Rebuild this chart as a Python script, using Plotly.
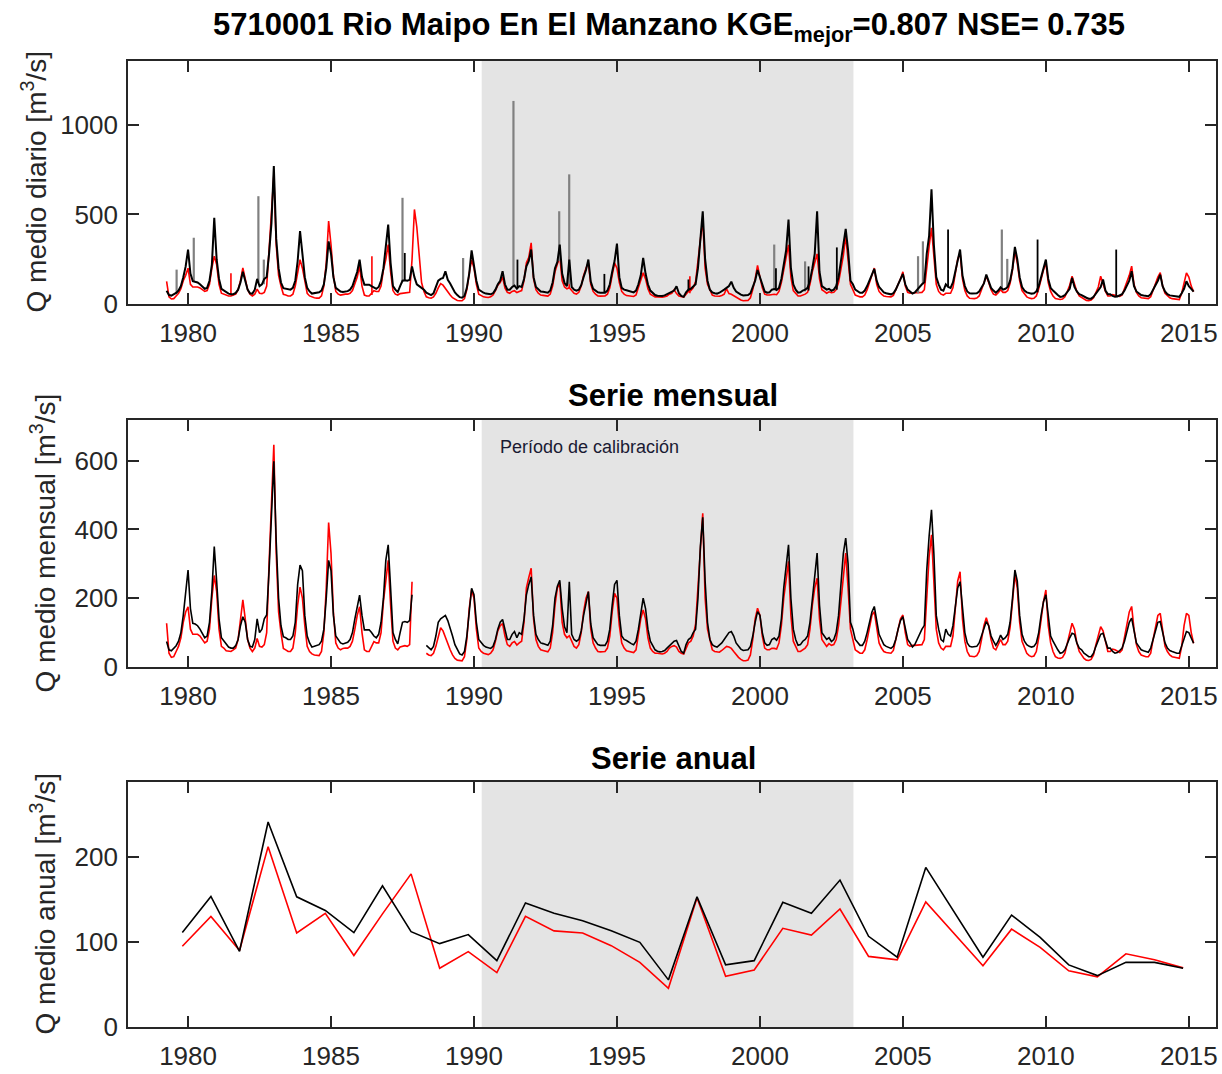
import numpy as np
import plotly.graph_objects as go

# ---------------------------------------------------------------
# Data: Rio Maipo en El Manzano (5710001), observed vs simulated
# Monthly values per hydrological year (April -> March)
# ---------------------------------------------------------------
anios_hidro = list(range(1979, 2015))
meses = ['Abr', 'May', 'Jun', 'Jul', 'Ago', 'Sep', 'Oct', 'Nov', 'Dic', 'Ene', 'Feb', 'Mar']

q_obs_mensual = [
    # Abr May Jun Jul Ago Sep Oct Nov Dic Ene Feb Mar
    74, 50, 47, 55, 62, 75, 100, 150, 210, 282, 170, 127,      # 1979
    125, 120, 110, 95, 85, 90, 130, 220, 350, 250, 140, 85,    # 1980
    75, 65, 58, 55, 55, 62, 80, 120, 146, 130, 80, 60,         # 1981
    58, 80, 140, 100, 110, 140, 151, 280, 450, 598, 365, 200,  # 1982
    120, 88, 85, 80, 80, 90, 130, 240, 296, 280, 150, 90,      # 1983
    70, 58, 60, 62, 65, 75, 110, 200, 310, 280, 150, 90,       # 1984
    80, 70, 67, 70, 72, 80, 100, 140, 180, 209, 150, 108,      # 1985
    108, 108, 100, 90, 85, 95, 130, 200, 310, 355, 230, 100,   # 1986
    80, 67, 100, 130, 132, 130, 135, 210, 150, 110, 100, 90,   # 1987
    80, 63, 55, 50, 60, 90, 130, 140, 145, 150, 135, 115,      # 1988
    90, 65, 50, 38, 35, 45, 90, 170, 229, 210, 130, 80,        # 1989
    70, 63, 58, 55, 54, 60, 80, 110, 130, 138, 110, 80,        # 1990
    80, 95, 103, 85, 100, 95, 140, 210, 240, 262, 150, 95,     # 1991
    80, 70, 68, 65, 63, 75, 120, 200, 235, 252, 170, 117,      # 1992
    100, 248, 95, 80, 75, 80, 105, 150, 190, 219, 125, 85,     # 1993
    75, 65, 63, 62, 63, 75, 110, 180, 240, 252, 150, 90,       # 1994
    80, 77, 72, 68, 65, 75, 110, 160, 200, 170, 110, 75,       # 1995
    60, 50, 46, 44, 45, 48, 55, 62, 70, 75, 77, 60,            # 1996
    45, 40, 65, 80, 85, 100, 110, 200, 350, 435, 250, 130,     # 1997
    80, 65, 60, 58, 63, 70, 80, 90, 100, 103, 90, 70,          # 1998
    60, 52, 48, 48, 50, 60, 90, 130, 161, 150, 100, 70,        # 1999
    63, 65, 80, 84, 78, 90, 140, 230, 300, 355, 200, 110,      # 2000
    80, 63, 65, 75, 80, 90, 130, 200, 280, 331, 180, 100,      # 2001
    90, 80, 85, 74, 80, 100, 150, 230, 330, 375, 300, 130,     # 2002
    110, 80, 70, 63, 63, 75, 100, 130, 160, 176, 130, 95,      # 2003
    80, 65, 60, 57, 54, 60, 80, 110, 135, 146, 110, 80,        # 2004
    70, 58, 65, 80, 100, 110, 121, 280, 380, 457, 330, 150,    # 2005
    110, 80, 74, 110, 95, 90, 120, 180, 230, 248, 160, 100,    # 2006
    70, 60, 58, 58, 60, 70, 90, 115, 132, 120, 90, 75,         # 2007
    63, 75, 93, 80, 85, 95, 130, 200, 282, 250, 150, 95,       # 2008
    75, 65, 60, 58, 60, 70, 100, 150, 190, 210, 140, 90,       # 2009
    75, 60, 50, 40, 42, 50, 70, 85, 98, 95, 70, 55,            # 2010
    50, 40, 35, 30, 30, 40, 60, 80, 95, 98, 75, 55,            # 2011
    55, 45, 40, 42, 48, 55, 75, 105, 130, 142, 100, 70,        # 2012
    60, 50, 47, 45, 43, 55, 80, 110, 130, 132, 100, 70,        # 2013
    55, 48, 45, 42, 40, 40, 60, 85, 103, 100, 85, 69,          # 2014
]

q_sim_mensual = [
    127, 40, 28, 30, 45, 60, 85, 130, 160, 175, 110, 95,       # 1979
    95, 95, 90, 80, 70, 75, 110, 200, 266, 220, 110, 60,       # 1980
    55, 47, 45, 45, 50, 55, 80, 130, 195, 140, 80, 55,         # 1981
    45, 55, 83, 60, 58, 65, 100, 300, 500, 646, 330, 160,      # 1982
    100, 54, 50, 45, 45, 55, 100, 180, 232, 200, 120, 60,      # 1983
    45, 38, 35, 33, 33, 45, 100, 230, 420, 330, 160, 70,       # 1984
    55, 50, 54, 55, 55, 60, 75, 110, 150, 175, 100, 50,        # 1985
    45, 45, 60, 74, 70, 70, 100, 190, 250, 310, 180, 75,       # 1986
    55, 50, 58, 60, 62, 60, 65, 248, 450, 430, 250, 120,       # 1987
    70, 40, 35, 33, 40, 60, 90, 114, 105, 85, 70, 50,          # 1988
    35, 25, 20, 18, 18, 30, 80, 170, 224, 200, 110, 55,        # 1989
    45, 40, 38, 36, 40, 50, 75, 105, 120, 126, 90, 65,         # 1990
    60, 70, 74, 64, 70, 75, 130, 230, 260, 287, 140, 80,       # 1991
    60, 50, 48, 45, 44, 55, 100, 180, 230, 242, 130, 95,       # 1992
    85, 91, 75, 60, 55, 65, 100, 160, 200, 219, 110, 70,       # 1993
    55, 45, 44, 44, 45, 55, 90, 160, 214, 200, 120, 70,        # 1994
    55, 47, 45, 43, 42, 50, 90, 140, 166, 140, 85, 55,         # 1995
    45, 40, 40, 38, 38, 40, 45, 55, 60, 62, 58, 45,            # 1996
    40, 38, 55, 70, 75, 90, 125, 230, 340, 447, 200, 110,      # 1997
    80, 50, 45, 43, 43, 48, 55, 60, 58, 54, 45, 35,            # 1998
    28, 22, 18, 18, 20, 35, 80, 140, 171, 150, 90, 55,         # 1999
    50, 50, 54, 54, 52, 70, 120, 200, 260, 307, 150, 75,       # 2000
    60, 45, 45, 50, 55, 65, 110, 180, 230, 258, 140, 80,       # 2001
    70, 60, 68, 63, 65, 80, 120, 190, 270, 331, 230, 110,      # 2002
    80, 50, 45, 40, 40, 50, 80, 120, 150, 161, 110, 70,        # 2003
    55, 45, 42, 40, 40, 48, 75, 110, 140, 151, 100, 65,        # 2004
    60, 63, 63, 63, 63, 65, 80, 220, 320, 384, 250, 110,       # 2005
    70, 55, 50, 60, 60, 60, 90, 180, 250, 277, 140, 75,        # 2006
    45, 32, 30, 30, 33, 45, 80, 120, 143, 120, 80, 55,         # 2007
    50, 63, 80, 65, 65, 75, 115, 190, 268, 230, 130, 75,       # 2008
    55, 40, 33, 30, 32, 45, 85, 140, 190, 224, 120, 70,        # 2009
    45, 30, 26, 25, 28, 40, 70, 105, 127, 110, 70, 45,         # 2010
    35, 25, 20, 19, 22, 35, 65, 95, 117, 105, 70, 45,          # 2011
    45, 52, 50, 45, 42, 50, 85, 130, 160, 176, 110, 65,        # 2012
    45, 35, 32, 30, 30, 40, 80, 120, 150, 156, 100, 60,        # 2013
    45, 35, 30, 28, 25, 25, 60, 120, 156, 150, 100, 69,        # 2014
]

# months with no observed record in the monthly series
meses_sin_obs = [(1987, 'Dic'), (1987, 'Ene'), (1987, 'Feb'), (1987, 'Mar'), (1988, 'Abr')]

# daily maxima of the melt season (Oct-Mar) per hydrological year
q_obs_max_diario = [304, 481, 180, 771, 407, 350, 248, 444, 210, 183, 300, 183,
                    304, 332, 248, 337, 257, 99, 518, 125, 190, 472, 518, 420,
                    196, 168, 640, 304, 164, 319, 248, 146, 137, 183, 164, 127]
q_sim_max_diario = [200, 267, 201, 720, 248, 463, 211, 332, 528, 114, 248, 150,
                    342, 266, 230, 230, 174, 80, 472, 85, 215, 330, 280, 381,
                    201, 180, 425, 286, 155, 296, 230, 155, 155, 211, 175, 174]

# short daily flood pulses: date, base flow, peak flow
pulso_gris_t = [1979.6, 1980.2, 1982.46, 1982.65, 1987.5, 1989.62, 1991.38, 1992.98,
                1993.33, 2000.5, 2001.58, 2005.53, 2005.7, 2008.46, 2008.65]
pulso_gris_base = [55, 125, 120, 110, 125, 40, 95, 240, 110, 80, 70, 60, 110, 80, 90]
pulso_gris_pico = [192, 370, 602, 248, 593, 257, 1134, 518, 724, 332, 238, 267, 350, 416, 252]

pulso_obs_t = [1987.58, 1991.52, 1994.56, 1997.5, 2000.56, 2001.7, 2002.69, 2006.58, 2009.71, 2012.46]
pulso_obs_base = [130, 95, 65, 75, 80, 75, 80, 100, 65, 45]
pulso_obs_pico = [285, 248, 168, 137, 200, 210, 316, 416, 360, 304]

pulso_sim_t = [1981.5, 1986.43, 1993.33, 1997.55]
pulso_sim_base = [55, 50, 90, 60]
pulso_sim_pico = [172, 266, 266, 155]

# annual means per hydrological year
q_obs_anual = [111, 153.5, 89, 241, 153, 137, 111, 166, 112, 98, 108.6, 78,
               145.8, 133.6, 125, 113, 99.5, 55.4, 153, 73, 78, 146.5, 133.6, 172.7,
               106.6, 82, 187.6, 134.7, 82, 131.6, 105.4, 73, 60.4, 76, 76, 69]
q_sim_anual = [95, 130, 90, 212, 110.5, 133.6, 84, 133, 180, 69, 88.6, 64,
               130, 113, 110.5, 95.6, 76, 45.5, 152, 59.7, 67, 116, 108, 138.7,
               83, 79, 147, 109, 72, 115, 93.7, 66, 59, 86, 79, 69.5]

# calibration period (decimal years)
calib_ini, calib_fin = 1990.27, 2003.27

titulo = "5710001 Rio Maipo En El Manzano KGE<sub>mejor</sub>=0.807 NSE= 0.735"

# ---------------------------------------------------------------
# Series construction
# ---------------------------------------------------------------
t_mes = np.array([hy + (m + 3) / 12.0 for hy in anios_hidro for m in range(12)])
obs = np.array(q_obs_mensual, dtype=float)
sim = np.array(q_sim_mensual, dtype=float)

obs_mes = obs.copy()
sim_mes = sim.copy()
for hy, mes in meses_sin_obs:
    k = anios_hidro.index(hy) * 12 + meses.index(mes)
    obs_mes[k] = np.nan
    sim_mes[k] = np.nan

# daily panel: melt-season peak month replaced by the daily maximum
obs_dia = obs.copy()
sim_dia = sim.copy()
for i in range(len(anios_hidro)):
    a = i * 12 + 6
    obs_dia[a + int(np.argmax(obs[a:a + 6]))] = q_obs_max_diario[i]
    sim_dia[a + int(np.argmax(sim[a:a + 6]))] = q_sim_max_diario[i]

t_anual = [hy + 0.8 for hy in anios_hidro]


def segmentos(ts, bases, picos):
    xs, ys = [], []
    for t, b, p in zip(ts, bases, picos):
        xs += [t, t, None]
        ys += [b, p, None]
    return xs, ys


ROJO = '#ff0000'
NEGRO = '#000000'
GRIS = '#808080'

fig = go.Figure()

# --- panel 1: daily series ---
fig.add_trace(go.Scatter(x=t_mes, y=sim_dia, mode='lines', line=dict(color=ROJO, width=1.6),
                         xaxis='x', yaxis='y', showlegend=False))
xs, ys = segmentos(pulso_sim_t, pulso_sim_base, pulso_sim_pico)
fig.add_trace(go.Scatter(x=xs, y=ys, mode='lines', line=dict(color=ROJO, width=1.6),
                         xaxis='x', yaxis='y', showlegend=False))
xs, ys = segmentos(pulso_gris_t, pulso_gris_base, pulso_gris_pico)
fig.add_trace(go.Scatter(x=xs, y=ys, mode='lines', line=dict(color=GRIS, width=2.2),
                         xaxis='x', yaxis='y', showlegend=False))
fig.add_trace(go.Scatter(x=t_mes, y=obs_dia, mode='lines', line=dict(color=NEGRO, width=2.0),
                         xaxis='x', yaxis='y', showlegend=False))
xs, ys = segmentos(pulso_obs_t, pulso_obs_base, pulso_obs_pico)
fig.add_trace(go.Scatter(x=xs, y=ys, mode='lines', line=dict(color=NEGRO, width=1.8),
                         xaxis='x', yaxis='y', showlegend=False))

# --- panel 2: monthly series ---
fig.add_trace(go.Scatter(x=t_mes, y=sim_mes, mode='lines', line=dict(color=ROJO, width=1.6),
                         connectgaps=False, xaxis='x2', yaxis='y2', showlegend=False))
fig.add_trace(go.Scatter(x=t_mes, y=obs_mes, mode='lines', line=dict(color=NEGRO, width=1.6),
                         connectgaps=False, xaxis='x2', yaxis='y2', showlegend=False))

# --- panel 3: annual series ---
fig.add_trace(go.Scatter(x=t_anual, y=q_sim_anual, mode='lines', line=dict(color=ROJO, width=1.6),
                         xaxis='x3', yaxis='y3', showlegend=False))
fig.add_trace(go.Scatter(x=t_anual, y=q_obs_anual, mode='lines', line=dict(color=NEGRO, width=1.6),
                         xaxis='x3', yaxis='y3', showlegend=False))

W, H = 1222, 1074
x_dom = [128 / W, 1216 / W]
paneles = {  # pixel top/bottom of each axes box
    '': (61, 304),
    '2': (420, 667),
    '3': (782, 1027),
}

FUENTE = 'Liberation Sans, Arial, Helvetica, sans-serif'
EJE = '#262626'

x_ticks = list(range(1980, 2016, 5))
y_ticks = {'': [0, 500, 1000], '2': [0, 200, 400, 600], '3': [0, 100, 200]}
y_rangos = {'': [0, 1357], '2': [0, 718], '3': [0, 288]}

layout = dict(
    width=W, height=H,
    margin=dict(l=0, r=0, t=0, b=0),
    paper_bgcolor='white', plot_bgcolor='white',
    font=dict(family=FUENTE, color=EJE),
)

for s, (top, bot) in paneles.items():
    layout['xaxis' + s] = dict(
        domain=x_dom, anchor='y' + s, range=[1977.9, 2015.95], automargin=False,
        tickvals=x_ticks, ticks='inside', ticklen=11, tickwidth=1.5, tickcolor=EJE,
        showline=True, linecolor=EJE, linewidth=1.6, mirror='ticks',
        showgrid=False, zeroline=False,
        tickfont=dict(size=26, color=EJE, family=FUENTE), ticklabelstandoff=5,
    )
    layout['yaxis' + s] = dict(
        domain=[1 - bot / H, 1 - top / H], anchor='x' + s, range=y_rangos[s], automargin=False,
        tickvals=y_ticks[s], ticks='inside', ticklen=11, tickwidth=1.5, tickcolor=EJE,
        showline=True, linecolor=EJE, linewidth=1.6, mirror='ticks',
        showgrid=False, zeroline=False,
        tickfont=dict(size=26, color=EJE, family=FUENTE), ticklabelstandoff=3,
    )

fig.update_layout(**layout)

# calibration period shading
for s in ['', '2', '3']:
    fig.add_shape(type='rect', xref='x' + s, yref=('y' + s + ' domain'),
                  x0=calib_ini, x1=calib_fin, y0=0, y1=1,
                  fillcolor='#e4e4e4', line=dict(width=0), layer='below')

anot = []
anot.append(dict(text='<b>' + titulo + '</b>', x=669 / W, y=1 - 27 / H,
                 xref='paper', yref='paper', showarrow=False,
                 xanchor='center', yanchor='middle',
                 font=dict(size=31, color='#000000', family=FUENTE)))
anot.append(dict(text='<b>Serie mensual</b>', x=673 / W, y=1 - 396 / H,
                 xref='paper', yref='paper', showarrow=False,
                 xanchor='center', yanchor='middle',
                 font=dict(size=31, color='#000000', family=FUENTE)))
anot.append(dict(text='<b>Serie anual</b>', x=673 / W, y=1 - 758 / H,
                 xref='paper', yref='paper', showarrow=False,
                 xanchor='center', yanchor='middle',
                 font=dict(size=31, color='#000000', family=FUENTE)))

etiquetas_y = [
    ('', 'Q medio diario [m<sup>3</sup>/s]', 34),
    ('2', 'Q medio mensual [m<sup>3</sup>/s]', 43),
    ('3', 'Q medio anual [m<sup>3</sup>/s]', 43),
]
for s, txt, xpix in etiquetas_y:
    top, bot = paneles[s]
    anot.append(dict(text=txt, x=xpix / W, y=1 - (top + bot) / 2 / H,
                     xref='paper', yref='paper', showarrow=False, textangle=-90,
                     xanchor='center', yanchor='middle',
                     font=dict(size=28, color=EJE, family=FUENTE)))

anot.append(dict(text='Período de calibración', x=calib_ini + 0.56, y=640,
                 xref='x2', yref='y2', showarrow=False, xanchor='left', yanchor='middle',
                 font=dict(size=18, color='#1a1a33', family=FUENTE)))

fig.update_layout(annotations=anot)

fig.write_html('out.html')
